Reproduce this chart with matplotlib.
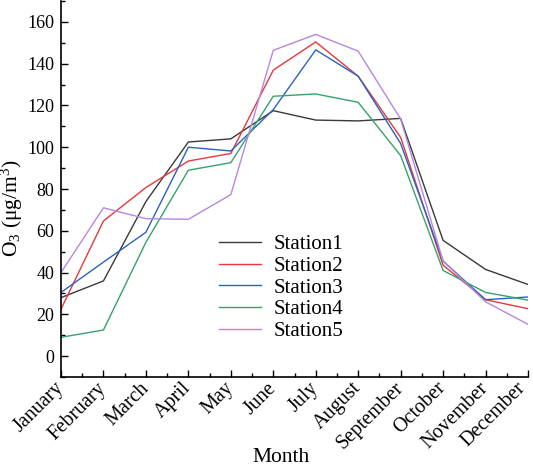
import matplotlib
matplotlib.use("Agg")
import matplotlib.pyplot as plt
from matplotlib.ticker import MultipleLocator, FixedLocator
from matplotlib.transforms import ScaledTranslation

plt.rcParams['font.family'] = ['Liberation Serif', 'DejaVu Serif']
plt.rcParams['mathtext.fontset'] = 'custom'
plt.rcParams['mathtext.rm'] = 'Liberation Serif'
plt.rcParams['mathtext.it'] = 'Liberation Serif:italic'

months = ["January", "February", "March", "April", "May", "June", "July",
          "August", "September", "October", "November", "December"]
station1 = [28, 36, 74, 102.5, 104, 117.5, 113, 112.6, 113.8, 55.4, 41.5, 34.3]
station2 = [22.5, 64.7, 80.7, 93.4, 97, 136.9, 150.4, 134, 104.7, 43.5, 27, 22.7]
station3 = [30.5, 45, 59.3, 100, 98.2, 118, 146.6, 134, 101.8, 45.5, 27, 28.3]
station4 = [9, 12.5, 54.5, 89, 92.6, 124.4, 125.5, 121.5, 96, 41, 30.5, 26.8]
station5 = [40, 71, 65.8, 65.5, 77.3, 146.4, 154, 146, 113.5, 45.5, 26, 15.2]
series = [("Station1", station1, "#3a3a3a"),
          ("Station2", station2, "#e8383d"),
          ("Station3", station3, "#2a62c0"),
          ("Station4", station4, "#36a26a"),
          ("Station5", station5, "#b886e0")]

fig = plt.figure(figsize=(5.33, 4.68), dpi=100)
ax = fig.add_axes([61/533, 1 - 377/468, 467/533, 376/468])

x = list(range(len(months)))
for name, vals, col in series:
    ax.plot(x, vals, color=col, lw=1.0, label=name)

ax.set_xlim(0, 11)
ax.set_ylim(-10, 170)
ax.yaxis.set_major_locator(MultipleLocator(20))
ax.yaxis.set_minor_locator(MultipleLocator(10))
ax.xaxis.set_major_locator(FixedLocator(x))
ax.xaxis.set_minor_locator(FixedLocator([i + 0.5 for i in x[:-1]]))
ax.set_xticklabels(months, rotation=45, ha='right', va='center',
                   rotation_mode='anchor', fontsize=14.5)
ax.tick_params(axis='y', labelsize=13, pad=5)
ax.tick_params(axis='x', pad=6)
ax.tick_params(which='major', direction='in', length=5, width=1)
ax.tick_params(which='minor', direction='in', length=3, width=1)
for s in ['top', 'right']:
    ax.spines[s].set_visible(False)
for s in ['left', 'bottom']:
    ax.spines[s].set_linewidth(1.2)

last = ax.get_xticklabels()[-1]
last.set_transform(last.get_transform() + ScaledTranslation(-5/100, 0, fig.dpi_scale_trans))

ax.set_xlabel("Month", fontsize=15.5)
ax.xaxis.set_label_coords(0.472, -0.19)
ax.set_ylabel(r"O$_3$ ($\mathrm{\mu}$g/m$^3$)", fontsize=15.5)
ax.yaxis.set_label_coords(-0.077, 0.448)

ax.legend(loc='center', bbox_to_anchor=(0.471, 0.237), frameon=False, fontsize=15,
          handlelength=2.0, handletextpad=0.6, labelspacing=0.1, borderpad=0)

fig.savefig("out.png", dpi=100)
